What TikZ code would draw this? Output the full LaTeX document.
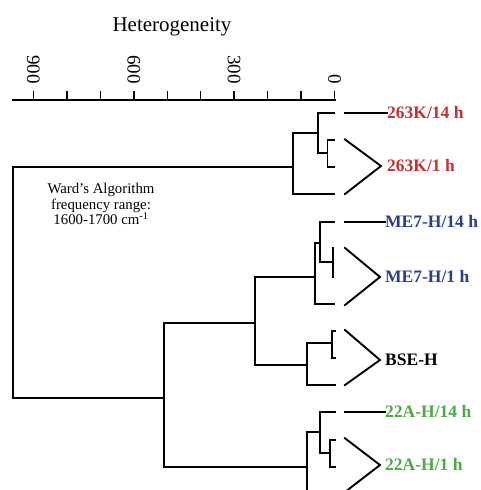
\documentclass[tikz,border=0pt]{standalone}
\usepackage{fontspec}
\setmainfont{Liberation Serif}
\definecolor{lred}{RGB}{196,48,50}
\definecolor{lblue}{RGB}{42,62,140}
\definecolor{lgreen}{RGB}{78,170,72}
\tikzset{
  tree/.style={line width=1.9pt, line cap=rect, line join=miter},
  tickline/.style={line width=1.5pt},
  ticklabel/.style={rotate=-90, anchor=east, inner sep=0pt, font=\fontsize{19}{19}\selectfont},
  leaf/.style={anchor=west, inner sep=0pt, font=\fontsize{17.5}{17.5}\selectfont\bfseries},
}
\begin{document}
\begin{tikzpicture}[x=1pt,y=-1pt]
\useasboundingbox (0,0) rectangle (481,490);
\clip (0,0) rectangle (481,490);

% title
\node[font=\fontsize{21}{21}\selectfont, inner sep=0pt] (title) at (172,27) {Heterogeneity};

% axis
\coordinate (axL) at (12,100);
\coordinate (axR) at (335.5,100);
\draw[tickline] (axL) -- (axR);
\foreach \i in {0,...,9} {
  \coordinate (tk\i) at ({334.5-\i*33.45},100);
  \draw[tickline] (tk\i) -- ++(0,-9);
}
\node[ticklabel] (l0)   at ([yshift=16pt]tk0) {0};
\node[ticklabel] (l300) at ([yshift=16pt]tk3) {300};
\node[ticklabel] (l600) at ([yshift=16pt]tk6) {600};
\node[ticklabel] (l900) at ([yshift=16pt]tk9) {900};

% annotation
\node[align=center, inner sep=0pt, font=\fontsize{14.8}{15.5}\selectfont] (ward) at (101,204)
  {Ward's Algorithm\\frequency range:\\1600-1700 cm\textsuperscript{-1}};

% ---------- dendrogram ----------
% root
\coordinate (rt)  at (12.7,167);
\coordinate (rb)  at (12.7,398);
\coordinate (kA)  at (292.7,167);   % 263K cluster
\coordinate (nB)  at (164,398);     % lower cluster
\draw[tree] (kA) -- (rt) -- (rb) -- (nB);

% 263K cluster
\coordinate (kAt) at (292.7,133);
\coordinate (kAb) at (292.7,194);
\coordinate (kI)  at (318,133);
\coordinate (kIt) at (318,113);
\coordinate (kIb) at (318,153);
\coordinate (k14) at (334.5,113);
\coordinate (kBr) at (327.5,153);
\coordinate (kBt) at (327.5,140);
\coordinate (kBb) at (327.5,167);
\coordinate (kLo) at (334.5,194);
\draw[tree] (kAt) -- (kAb);
\draw[tree] (kAt) -- (kI);
\draw[tree] (kIt) -- (kIb);
\draw[tree] (kIt) -- (k14);
\draw[tree] (kIb) -- (kBr);
\draw[tree] ([xshift=7pt]kBt) -- (kBt) -- (kBb) -- ([xshift=7pt]kBb);
\draw[tree] (kAb) -- (kLo);
\node[leaf, text=lred] (k14lab) at (387,113) {263K/14 h};
\node[leaf, text=lred] (k1lab)  at (387,166) {263K/1 h};
\draw[tree] (345,113) -- (k14lab.west);
\draw[tree] (345,139.5) -- ([xshift=-6pt]k1lab.west) -- (345,194);

% lower cluster
\coordinate (nBt) at (164,323);
\coordinate (nBb) at (164,466.7);
\draw[tree] (nBt) -- (nBb);
\coordinate (nC)  at (255,323);
\coordinate (nCt) at (255,276.7);
\coordinate (nCb) at (255,365);
\draw[tree] (nBt) -- (nC);
\draw[tree] (nCt) -- (nCb);

% ME7 cluster
\coordinate (mA)  at (315,276.7);
\coordinate (mAt) at (315,243);
\coordinate (mAb) at (315,304);
\coordinate (mI)  at (320,243);
\coordinate (mIt) at (320,222);
\coordinate (mIb) at (320,262);
\coordinate (mT)  at (333,262);
\draw[tree] (nCt) -- (mA);
\draw[tree] (mAt) -- (mAb);
\draw[tree] (mAt) -- (mI);
\draw[tree] (mIt) -- (mIb);
\draw[tree] (mIt) -- (334,222);
\draw[tree] (mIb) -- (mT);
\draw[tree] (333,248) -- (333,277);
\draw[tree] (mAb) -- (334,304);
\node[leaf, text=lblue] (m14lab) at (385,222) {ME7-H/14 h};
\node[leaf, text=lblue] (m1lab)  at (385,277) {ME7-H/1 h};
\draw[tree] (345,222) -- (m14lab.west);
\draw[tree] (345,248) -- ([xshift=-5pt]m1lab.west) -- (345,305);

% BSE cluster
\coordinate (bA)  at (306.7,365);
\coordinate (bAt) at (306.7,343.3);
\coordinate (bAb) at (306.7,385);
\coordinate (bBr) at (331.7,343.3);
\draw[tree] (nCb) -- (bA);
\draw[tree] (bAt) -- (bAb);
\draw[tree] (bAt) -- (bBr);
\draw[tree] (335,330.7) -- (331.7,330.7) -- (331.7,358.3) -- (335,358.3);
\draw[tree] (bAb) -- (335,385);
\node[leaf] (blab) at (385,360) {BSE-H};
\draw[tree] (345,330) -- ([xshift=-5pt]blab.west) -- (345,385);

% 22A cluster
\coordinate (gA)  at (306.7,466.7);
\coordinate (gAt) at (306.7,431.7);
\coordinate (gAb) at (306.7,502);
\coordinate (gI)  at (320,431.7);
\coordinate (gIt) at (320,411.7);
\coordinate (gIb) at (320,452.7);
\coordinate (gBr) at (330,452.7);
\draw[tree] (nBb) -- (gA);
\draw[tree] (gAt) -- (gAb) -- (335,502);
\draw[tree] (gAt) -- (gI);
\draw[tree] (gIt) -- (gIb);
\draw[tree] (gIt) -- (335,411.7);
\draw[tree] (gIb) -- (gBr);
\draw[tree] (335,440) -- (330,440) -- (330,466.7) -- (335,466.7);
\node[leaf, text=lgreen] (g14lab) at (385,411.7) {22A-H/14 h};
\node[leaf, text=lgreen] (g1lab)  at (385,465) {22A-H/1 h};
\draw[tree] (345,411.7) -- (g14lab.west);
\draw[tree] (345,438.3) -- ([xshift=-5pt]g1lab.west) -- (345,492);
\end{tikzpicture}
\end{document}
